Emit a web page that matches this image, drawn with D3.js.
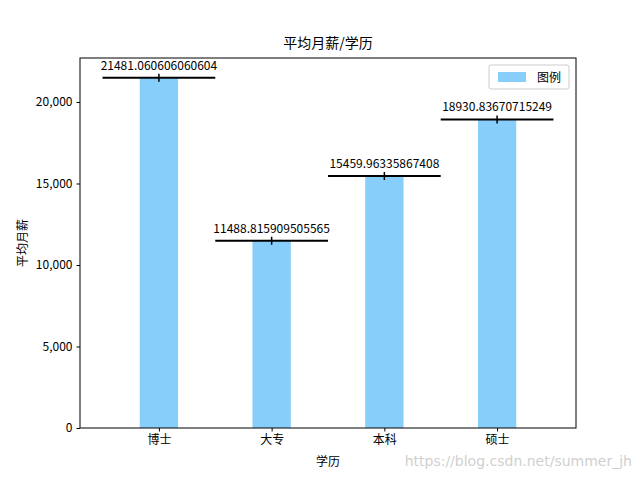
<!DOCTYPE html>
<html lang="zh">
<head>
<meta charset="UTF-8">
<title>平均月薪/学历</title>
<script src="https://d3js.org/d3.v7.min.js"></script>
<style>body{margin:0;background:#fff}</style>
</head>
<body>
<script>
var categories = ["博士", "大专", "本科", "硕士"];
var values = [21481.060606060604, 11488.815909505565, 15459.96335867408, 18930.83670715249];
var labels = ["21481.060606060604", "11488.815909505565", "15459.96335867408", "18930.83670715249"];
var yTicks = [0, 5000, 10000, 15000, 20000];

var W = 640, H = 480;
var m = {left: 80, right: 64, top: 58, bottom: 52};
var font = "'Noto Sans CJK SC', 'DejaVu Sans', sans-serif";

var svg = d3.select("body").append("svg").attr("width", W).attr("height", H)
  .style("font-family", font);

var x = d3.scaleLinear().domain([-0.7, 3.7]).range([m.left, W - m.right]);
var y = d3.scaleLinear().domain([0, 22700]).range([H - m.bottom, m.top]);
var bw = 0.34;

// bars
svg.selectAll("rect.bar").data(values).enter().append("rect")
  .attr("x", function(d, i){ return x(i - bw/2); })
  .attr("width", x(bw) - x(0))
  .attr("y", function(d){ return y(d); })
  .attr("height", function(d){ return y(0) - y(d); })
  .attr("fill", "#87cefa");

// error-style lines
var g = svg.append("g").attr("stroke", "black").attr("stroke-width", 2);
values.forEach(function(d, i){
  g.append("line").attr("x1", x(i - 0.5)).attr("x2", x(i + 0.5)).attr("y1", y(d)).attr("y2", y(d));
  g.append("line").attr("x1", x(i)).attr("x2", x(i)).attr("y1", y(d) - 4).attr("y2", y(d) + 4).attr("stroke-width", 1.5);
});

// value labels
svg.selectAll("text.val").data(values).enter().append("text")
  .attr("x", function(d, i){ return x(i); })
  .attr("y", function(d){ return y(d) - 8; })
  .attr("text-anchor", "middle").attr("font-size", 12)
  .text(function(d, i){ return labels[i]; });

// axes
var xa = svg.append("g").attr("transform", "translate(0," + (H - m.bottom) + ")")
  .call(d3.axisBottom(x).tickValues(d3.range(categories.length)).tickFormat(function(i){ return categories[i]; }).tickSize(3.5).tickPadding(4));
var ya = svg.append("g").attr("transform", "translate(" + m.left + ",0)")
  .call(d3.axisLeft(y).tickValues(yTicks).tickSize(3.5).tickPadding(4));
[xa, ya].forEach(function(a){
  a.select(".domain").remove();
  a.selectAll("text").attr("font-size", 12).attr("font-family", font).attr("fill", "black");
});
svg.append("rect").attr("x", m.left).attr("y", m.top)
  .attr("width", W - m.left - m.right).attr("height", H - m.top - m.bottom)
  .attr("fill", "none").attr("stroke", "black").attr("stroke-width", 1);

// titles
svg.append("text").attr("x", (m.left + W - m.right)/2).attr("y", 48)
  .attr("text-anchor", "middle").attr("font-size", 14).text("平均月薪/学历");
svg.append("text").attr("x", (m.left + W - m.right)/2).attr("y", 466)
  .attr("text-anchor", "middle").attr("font-size", 12).text("学历");
svg.append("text").attr("transform", "translate(27," + ((m.top + H - m.bottom)/2) + ") rotate(-90)")
  .attr("text-anchor", "middle").attr("font-size", 12).text("平均月薪");

// legend
var lg = svg.append("g").attr("transform", "translate(489,65)");
lg.append("rect").attr("width", 80).attr("height", 24).attr("rx", 2)
  .attr("fill", "white").attr("fill-opacity", 0.8).attr("stroke", "#ccc");
lg.append("rect").attr("x", 9).attr("y", 7).attr("width", 28).attr("height", 10).attr("fill", "#87cefa");
lg.append("text").attr("x", 48).attr("y", 16.5).attr("font-size", 12).text("图例");

// watermark
svg.append("text").attr("x", 632).attr("y", 466).attr("text-anchor", "end")
  .attr("font-size", 14).attr("fill", "#d0d0d0").attr("font-family", "'DejaVu Sans', sans-serif")
  .text("https://blog.csdn.net/summer_jh");
</script>
</body>
</html>
